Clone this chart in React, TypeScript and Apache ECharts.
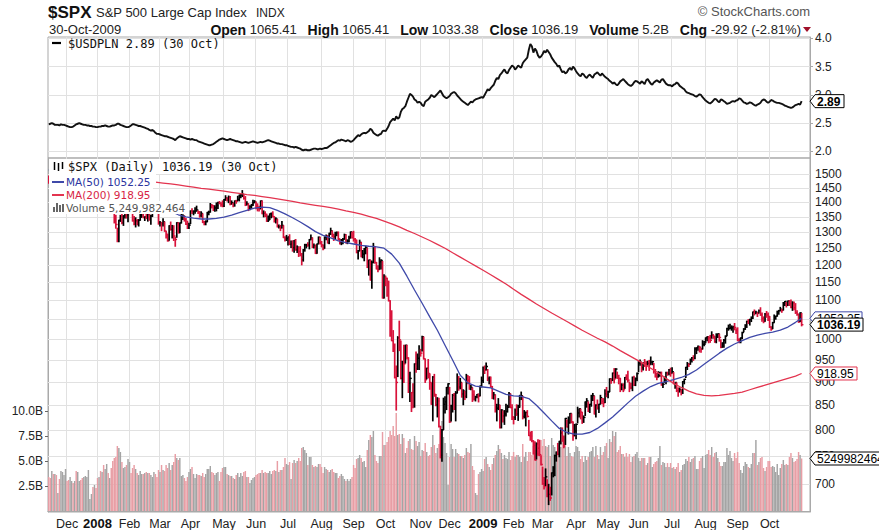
import React, { useEffect, useRef } from 'react';
import * as echarts from 'echarts';

// ---------- categories ----------
const FIRST_DAY = '2007-11-14';
const LAST_DAY = '2009-10-30';
const HOLIDAYS = ['2007-11-22', '2007-12-25', '2008-01-01', '2008-01-21', '2008-02-18', '2008-03-21', '2008-05-26', '2008-07-04', '2008-09-01', '2008-11-27', '2008-12-25', '2009-01-01', '2009-01-19', '2009-02-16', '2009-04-10', '2009-05-25', '2009-07-03', '2009-09-07'];
const PAD_DAYS = ['2009-11-02', '2009-11-03', '2009-11-04', '2009-11-05', '2009-11-06'];
const MONTHS = ['Jan', 'Feb', 'Mar', 'Apr', 'May', 'Jun', 'Jul', 'Aug', 'Sep', 'Oct', 'Nov', 'Dec'];

// ---------- $SPX daily (one line per month) ----------
const spxClose = [
  1471, 1451, 1459, 1433, 1440, 1417, 1441, 1407, 1428, 1469, 1470, 1481,
  1472, 1463, 1485, 1507, 1505, 1516, 1478, 1487, 1488, 1468, 1446, 1455, 1455, 1460, 1485, 1497, 1498, 1476, 1479, 1468,
  1447, 1447, 1412, 1416, 1390, 1409, 1420, 1401, 1416, 1381, 1373, 1333, 1325, 1311, 1339, 1352, 1331, 1354, 1362, 1356, 1379,
  1395, 1381, 1337, 1327, 1337, 1331, 1339, 1349, 1367, 1349, 1350, 1349, 1360, 1343, 1353, 1372, 1381, 1380, 1368, 1331,
  1331, 1327, 1334, 1304, 1293, 1273, 1321, 1309, 1316, 1288, 1277, 1331, 1298, 1330, 1350, 1353, 1341, 1326, 1315, 1323,
  1370, 1368, 1369, 1370, 1373, 1366, 1355, 1361, 1333, 1328, 1334, 1365, 1366, 1390, 1388, 1376, 1380, 1389, 1398, 1396, 1391, 1386,
  1409, 1414, 1408, 1418, 1393, 1398, 1388, 1404, 1403, 1409, 1424, 1425, 1427, 1413, 1391, 1394, 1376, 1385, 1391, 1398, 1400,
  1386, 1378, 1377, 1404, 1361, 1362, 1358, 1336, 1340, 1360, 1360, 1351, 1338, 1343, 1318, 1318, 1314, 1322, 1283, 1278, 1280,
  1285, 1262, 1263, 1252, 1274, 1245, 1253, 1240, 1228, 1215, 1245, 1260, 1261, 1260, 1277, 1282, 1253, 1258, 1234, 1263, 1284, 1267,
  1260, 1249, 1285, 1289, 1266, 1296, 1305, 1290, 1286, 1293, 1298, 1279, 1267, 1275, 1278, 1292, 1267, 1272, 1282, 1301, 1283,
  1278, 1275, 1237, 1242, 1268, 1225, 1232, 1249, 1252, 1193, 1214, 1156, 1207, 1255, 1207, 1188, 1186, 1209, 1213, 1106, 1166,
  1161, 1114, 1099, 1057, 996, 985, 910, 899, 1003, 998, 908, 946, 941, 985, 955, 897, 908, 877, 849, 941, 930, 954, 969,
  966, 1006, 953, 905, 931, 919, 899, 852, 911, 873, 851, 859, 807, 752, 800, 852, 857, 888, 896,
  816, 849, 871, 845, 876, 910, 889, 899, 874, 880, 869, 913, 904, 885, 888, 872, 863, 868, 873, 869, 891, 903,
  932, 927, 935, 907, 910, 890, 870, 872, 843, 844, 850, 805, 840, 828, 832, 837, 846, 874, 845, 826,
  825, 839, 832, 846, 869, 870, 827, 834, 835, 827, 789, 788, 779, 770, 743, 773, 765, 753, 735,
  701, 696, 713, 683, 683, 677, 720, 721, 751, 757, 754, 778, 794, 784, 769, 823, 806, 814, 833, 816, 788, 798,
  811, 834, 843, 836, 816, 825, 857, 859, 842, 852, 865, 870, 832, 850, 844, 852, 866, 858, 855, 874, 873,
  878, 907, 904, 920, 907, 929, 909, 908, 884, 893, 883, 910, 908, 904, 888, 887, 910, 893, 907, 919,
  943, 945, 932, 943, 940, 939, 942, 939, 945, 946, 924, 912, 911, 918, 921, 893, 895, 901, 920, 919, 927, 919,
  923, 896, 899, 881, 880, 883, 879, 901, 906, 933, 941, 940, 951, 955, 954, 976, 979, 982, 980, 975, 987, 988,
  1003, 1006, 1003, 997, 1010, 1007, 994, 1006, 1013, 1004, 980, 990, 997, 1007, 1026, 1026, 1028, 1028, 1031, 1029, 1021,
  998, 995, 1003, 1016, 1025, 1033, 1044, 1043, 1049, 1053, 1069, 1066, 1068, 1065, 1072, 1061, 1051, 1044, 1063, 1061, 1057,
  1030, 1025, 1041, 1055, 1058, 1066, 1072, 1076, 1073, 1092, 1097, 1088, 1098, 1091, 1081, 1093, 1080, 1067, 1063, 1043, 1066, 1036,
];
const spxHigh = [
  1492, 1471, 1462, 1456, 1452, 1436, 1441, 1446, 1430, 1471, 1473, 1489,
  1482, 1471, 1487, 1508, 1511, 1518, 1523, 1511, 1492, 1489, 1468, 1461, 1464, 1461, 1485, 1497, 1499, 1498, 1489, 1479,
  1471, 1456, 1444, 1423, 1430, 1410, 1429, 1419, 1417, 1414, 1391, 1377, 1355, 1313, 1339, 1355, 1368, 1354, 1364, 1385, 1385,
  1396, 1395, 1380, 1351, 1347, 1341, 1341, 1368, 1370, 1370, 1350, 1368, 1363, 1367, 1355, 1373, 1388, 1385, 1380, 1368,
  1335, 1332, 1344, 1333, 1303, 1294, 1321, 1333, 1322, 1321, 1284, 1331, 1331, 1330, 1360, 1357, 1353, 1345, 1336, 1329,
  1370, 1377, 1370, 1381, 1386, 1370, 1368, 1367, 1360, 1335, 1337, 1365, 1369, 1395, 1391, 1388, 1387, 1397, 1399, 1402, 1398, 1404,
  1409, 1422, 1415, 1421, 1419, 1404, 1396, 1404, 1406, 1420, 1424, 1425, 1440, 1425, 1419, 1401, 1394, 1387, 1392, 1406, 1405,
  1400, 1394, 1386, 1404, 1404, 1370, 1367, 1359, 1353, 1360, 1363, 1367, 1351, 1347, 1342, 1323, 1322, 1335, 1321, 1286, 1290,
  1285, 1292, 1272, 1273, 1274, 1277, 1257, 1253, 1255, 1234, 1246, 1262, 1262, 1267, 1277, 1291, 1282, 1263, 1260, 1263, 1285, 1284,
  1271, 1260, 1285, 1291, 1290, 1297, 1313, 1304, 1294, 1300, 1301, 1301, 1278, 1277, 1280, 1294, 1292, 1276, 1287, 1301, 1300,
  1303, 1280, 1275, 1243, 1275, 1268, 1243, 1249, 1256, 1250, 1214, 1214, 1211, 1265, 1255, 1207, 1197, 1221, 1215, 1210, 1171,
  1167, 1161, 1153, 1099, 1072, 1021, 988, 936, 1006, 1045, 995, 947, 985, 985, 985, 955, 922, 877, 896, 941, 969, 964, 984,
  975, 1007, 1005, 952, 931, 951, 918, 898, 912, 917, 873, 866, 865, 807, 801, 865, 868, 888, 896,
  888, 850, 873, 875, 879, 918, 912, 908, 898, 883, 880, 917, 914, 912, 893, 887, 881, 869, 873, 874, 891, 911,
  934, 936, 943, 928, 911, 911, 890, 877, 872, 852, 864, 850, 841, 838, 839, 852, 850, 877, 874, 851,
  826, 842, 851, 850, 871, 878, 869, 839, 836, 839, 819, 796, 797, 779, 777, 775, 781, 780, 751,
  730, 712, 727, 708, 700, 695, 720, 731, 752, 758, 774, 778, 804, 804, 788, 823, 820, 826, 833, 832, 816, 811,
  812, 846, 842, 842, 835, 828, 857, 864, 857, 852, 871, 875, 869, 851, 861, 852, 871, 864, 864, 883, 888,
  880, 907, 907, 920, 930, 930, 922, 915, 908, 896, 896, 910, 916, 924, 900, 897, 911, 913, 909, 920,
  947, 950, 942, 943, 951, 946, 947, 949, 957, 947, 942, 928, 919, 923, 922, 922, 898, 911, 922, 922, 928, 931,
  932, 921, 898, 898, 887, 887, 883, 901, 906, 933, 944, 941, 952, 956, 960, 979, 979, 983, 982, 977, 996, 994,
  1003, 1006, 1006, 1009, 1018, 1011, 1006, 1013, 1013, 1012, 998, 991, 999, 1008, 1027, 1035, 1037, 1033, 1032, 1039, 1026,
  1028, 1001, 1003, 1017, 1026, 1036, 1045, 1049, 1050, 1056, 1069, 1074, 1071, 1067, 1074, 1080, 1066, 1056, 1065, 1070, 1066,
  1057, 1031, 1042, 1061, 1058, 1071, 1073, 1081, 1076, 1094, 1097, 1094, 1098, 1099, 1101, 1096, 1095, 1091, 1072, 1063, 1067, 1065,
];
const spxLow = [
  1466, 1443, 1445, 1430, 1420, 1415, 1419, 1406, 1407, 1430, 1458, 1469,
  1470, 1461, 1463, 1482, 1502, 1504, 1476, 1467, 1469, 1467, 1445, 1433, 1445, 1448, 1463, 1484, 1485, 1475, 1469, 1467,
  1442, 1443, 1411, 1404, 1388, 1378, 1395, 1394, 1402, 1380, 1365, 1330, 1313, 1270, 1270, 1335, 1327, 1322, 1346, 1346, 1334,
  1375, 1379, 1336, 1324, 1317, 1324, 1320, 1339, 1350, 1347, 1338, 1344, 1336, 1339, 1326, 1351, 1366, 1366, 1364, 1326,
  1320, 1305, 1320, 1303, 1282, 1272, 1275, 1307, 1282, 1274, 1256, 1284, 1298, 1299, 1330, 1341, 1336, 1325, 1312, 1312,
  1328, 1361, 1357, 1362, 1369, 1361, 1349, 1350, 1331, 1324, 1324, 1334, 1357, 1366, 1380, 1371, 1369, 1370, 1378, 1394, 1386, 1384,
  1385, 1406, 1404, 1398, 1391, 1393, 1384, 1386, 1396, 1405, 1404, 1415, 1419, 1410, 1388, 1390, 1371, 1374, 1379, 1388, 1398,
  1377, 1370, 1370, 1377, 1360, 1350, 1351, 1335, 1335, 1341, 1347, 1350, 1333, 1330, 1317, 1314, 1305, 1314, 1283, 1272, 1274,
  1260, 1261, 1252, 1241, 1238, 1244, 1237, 1225, 1227, 1200, 1211, 1241, 1251, 1256, 1248, 1276, 1252, 1251, 1234, 1235, 1265, 1263,
  1254, 1245, 1250, 1276, 1266, 1264, 1293, 1285, 1274, 1277, 1289, 1275, 1263, 1261, 1264, 1278, 1266, 1264, 1270, 1282, 1282,
  1272, 1265, 1236, 1217, 1242, 1224, 1221, 1212, 1233, 1192, 1170, 1156, 1133, 1206, 1205, 1188, 1180, 1187, 1188, 1106, 1106,
  1140, 1111, 1098, 1007, 996, 970, 909, 840, 912, 972, 907, 866, 899, 943, 952, 877, 858, 837, 845, 846, 922, 928, 928,
  959, 971, 952, 899, 907, 909, 884, 852, 818, 869, 849, 826, 806, 747, 741, 801, 834, 841, 874,
  815, 818, 836, 841, 818, 876, 882, 885, 867, 851, 862, 866, 896, 884, 883, 858, 861, 859, 866, 857, 870, 889,
  899, 919, 927, 903, 896, 888, 864, 863, 836, 818, 841, 804, 804, 816, 811, 828, 836, 846, 845, 821,
  812, 821, 829, 819, 846, 862, 822, 824, 808, 826, 789, 780, 777, 754, 743, 745, 752, 751, 734,
  700, 692, 698, 679, 666, 673, 682, 713, 715, 741, 753, 749, 773, 778, 766, 772, 806, 792, 814, 814, 780, 789,
  783, 814, 826, 822, 813, 815, 829, 846, 837, 835, 848, 860, 832, 826, 842, 835, 853, 853, 847, 856, 868,
  866, 879, 897, 903, 898, 909, 908, 896, 879, 883, 879, 886, 905, 900, 879, 885, 881, 892, 892, 903,
  923, 938, 923, 927, 935, 926, 938, 926, 940, 939, 920, 911, 905, 911, 913, 893, 888, 899, 896, 915, 916, 913,
  920, 896, 886, 879, 869, 878, 872, 875, 896, 910, 928, 935, 940, 945, 949, 953, 965, 973, 969, 968, 976, 984,
  991, 996, 991, 992, 1002, 1002, 992, 991, 1004, 995, 979, 980, 980, 990, 1009, 1022, 1026, 1022, 1017, 1023, 1014,
  996, 991, 991, 1001, 1018, 1024, 1029, 1039, 1035, 1044, 1052, 1061, 1064, 1057, 1066, 1060, 1045, 1041, 1045, 1055, 1047,
  1029, 1022, 1026, 1042, 1050, 1058, 1063, 1072, 1068, 1074, 1086, 1082, 1086, 1086, 1080, 1073, 1075, 1065, 1060, 1042, 1044, 1033,
];
// volume, billions of shares
const spxVolume = [
  3.4, 3.3, 4.0, 3.7, 3.7, 3.6, 1.8, 3.2, 4.0, 3.9, 3.6, 4.2,
  3.0, 3.1, 3.4, 3.0, 2.8, 3.0, 4.0, 3.9, 3.0, 3.1, 3.3, 3.4, 3.5, 3.4, 4.1, 1.2, 1.7, 2.4, 2.6, 2.3,
  3.3, 3.4, 4.0, 3.9, 4.6, 4.2, 4.7, 3.8, 3.3, 4.3, 5.0, 5.3, 5.4, 6.5, 6.3, 5.9, 4.9, 4.3, 4.4, 4.6, 5.2,
  4.9, 3.8, 4.3, 4.6, 4.2, 3.8, 3.6, 4.0, 3.7, 3.7, 3.8, 3.9, 3.8, 3.8, 3.6, 3.4, 3.9, 3.7, 3.4, 4.1,
  3.9, 4.6, 4.1, 4.0, 4.6, 4.3, 4.8, 4.1, 4.6, 4.9, 5.7, 5.3, 5.1, 5.3, 3.5, 3.6, 3.3, 3.0, 3.4, 3.9,
  4.2, 4.4, 3.7, 3.3, 3.7, 3.6, 3.6, 3.5, 3.8, 3.4, 3.7, 4.2, 4.2, 4.5, 3.9, 3.8, 3.6, 3.8, 3.9, 3.0, 3.9, 4.3,
  4.4, 4.4, 3.7, 3.6, 3.5, 3.5, 3.3, 3.2, 3.6, 3.8, 3.4, 3.8, 3.5, 3.9, 4.0, 3.4, 3.4, 2.8, 3.1, 3.3, 3.4,
  3.6, 3.7, 3.8, 3.8, 4.1, 3.8, 3.9, 3.8, 3.8, 4.0, 3.7, 4.0, 4.1, 4.0, 5.0, 3.9, 4.1, 4.1, 4.4, 5.3, 4.7,
  4.6, 4.9, 3.2, 4.8, 5.1, 4.8, 5.0, 5.3, 5.0, 6.3, 6.4, 6.1, 5.8, 4.6, 5.4, 5.4, 4.6, 4.4, 4.5, 4.4, 4.7, 4.7,
  4.4, 3.8, 4.4, 4.2, 4.1, 3.9, 4.1, 4.2, 3.9, 3.8, 3.8, 3.3, 3.5, 3.7, 3.5, 3.2, 3.0, 3.2, 3.0, 3.2, 3.4,
  4.6, 4.3, 5.2, 5.3, 5.6, 5.3, 4.9, 5.0, 4.4, 6.1, 7.1, 7.6, 7.4, 8.0, 5.6, 5.0, 4.8, 5.5, 5.5, 7.9, 6.6,
  6.6, 6.9, 7.4, 8.0, 7.6, 8.5, 7.5, 9.8, 7.6, 7.7, 6.7, 7.7, 7.3, 5.8, 6.3, 7.0, 7.2, 6.2, 6.1, 7.5, 7.0, 6.5, 6.9,
  5.5, 6.1, 6.0, 6.8, 5.9, 5.5, 5.6, 6.4, 7.6, 6.6, 5.8, 6.3, 6.7, 8.0, 9.0, 7.4, 6.8, 5.8, 2.6,
  5.4, 6.7, 6.2, 5.4, 6.2, 5.8, 5.7, 5.5, 5.5, 5.3, 5.6, 6.3, 5.9, 5.8, 6.7, 4.5, 4.1, 1.8, 1.6, 3.7, 3.9, 4.2,
  4.0, 5.2, 5.4, 4.7, 4.4, 4.1, 4.7, 5.3, 5.6, 6.0, 6.6, 6.2, 5.8, 5.2, 5.6, 5.3, 5.2, 5.9, 5.1, 5.5,
  5.9, 5.4, 5.6, 5.6, 5.4, 4.9, 6.7, 5.4, 5.9, 5.0, 5.9, 5.9, 5.6, 6.5, 6.1, 6.4, 5.8, 6.0, 7.1,
  6.5, 7.2, 6.5, 6.4, 6.6, 5.5, 7.3, 6.6, 6.4, 5.8, 6.6, 6.3, 6.4, 7.0, 7.2, 6.4, 5.5, 6.4, 5.8, 5.5, 5.4, 5.9,
  6.5, 6.4, 6.0, 5.2, 5.5, 4.9, 5.5, 5.1, 5.4, 5.9, 6.0, 6.4, 5.4, 6.5, 5.6, 5.2, 6.4, 5.6, 5.9, 6.5, 6.8,
  5.3, 7.2, 6.9, 8.0, 7.5, 7.9, 5.9, 6.1, 6.5, 5.7, 5.7, 5.4, 5.8, 5.4, 5.7, 4.9, 5.4, 5.5, 5.7, 5.9,
  5.3, 5.0, 5.3, 5.3, 5.3, 4.6, 4.8, 5.4, 5.4, 4.4, 4.7, 4.9, 5.0, 5.3, 6.5, 4.6, 4.9, 4.8, 4.4, 4.8, 4.4, 4.8,
  4.3, 4.4, 4.2, 4.4, 4.8, 3.9, 4.1, 4.6, 4.7, 5.2, 5.0, 5.4, 4.9, 5.2, 5.3, 5.5, 4.2, 4.2, 5.0, 5.3, 5.5, 4.3,
  5.6, 5.7, 6.1, 5.6, 6.4, 5.4, 5.8, 5.9, 5.3, 4.9, 4.5, 4.5, 4.9, 4.9, 6.3, 5.6, 6.0, 5.3, 5.0, 5.8, 5.3,
  5.9, 4.8, 4.1, 3.8, 4.5, 4.9, 4.7, 4.4, 4.3, 4.7, 5.8, 5.8, 7.1, 4.6, 4.9, 5.3, 5.4, 4.3, 4.0, 4.4, 5.0,
  5.0, 4.4, 4.5, 4.4, 3.9, 4.7, 3.6, 4.3, 4.7, 5.1, 4.6, 4.7, 4.6, 5.4, 5.8, 5.3, 4.9, 5.0, 5.2, 5.9, 5.6, 5.25,
];
// $USDPLN daily close
const usdpln = [
  2.48, 2.49, 2.50, 2.49, 2.47, 2.47, 2.47, 2.46, 2.48, 2.47, 2.47, 2.46,
  2.45, 2.44, 2.43, 2.43, 2.44, 2.46, 2.48, 2.49, 2.50, 2.49, 2.48, 2.47, 2.47, 2.46, 2.46, 2.45, 2.45, 2.44, 2.44, 2.43,
  2.43, 2.44, 2.44, 2.45, 2.45, 2.46, 2.45, 2.44, 2.44, 2.45, 2.46, 2.46, 2.47, 2.49, 2.49, 2.47, 2.46, 2.45, 2.44, 2.43, 2.43,
  2.44, 2.46, 2.48, 2.48, 2.47, 2.46, 2.45, 2.45, 2.44, 2.43, 2.42, 2.41, 2.40, 2.38, 2.37, 2.38, 2.36, 2.33, 2.31, 2.31,
  2.30, 2.29, 2.28, 2.27, 2.27, 2.26, 2.25, 2.24, 2.23, 2.22, 2.20, 2.23, 2.25, 2.27, 2.26, 2.25, 2.24, 2.23, 2.22, 2.22,
  2.21, 2.22, 2.21, 2.20, 2.20, 2.18, 2.17, 2.16, 2.15, 2.14, 2.13, 2.12, 2.11, 2.11, 2.12, 2.13, 2.15, 2.17, 2.19, 2.21, 2.22, 2.23,
  2.22, 2.21, 2.20, 2.21, 2.22, 2.21, 2.20, 2.19, 2.18, 2.18, 2.17, 2.16, 2.15, 2.16, 2.17, 2.16, 2.15, 2.16, 2.17, 2.18, 2.17,
  2.16, 2.15, 2.16, 2.17, 2.16, 2.17, 2.18, 2.19, 2.20, 2.19, 2.18, 2.17, 2.16, 2.15, 2.14, 2.14, 2.13, 2.13, 2.12, 2.11, 2.11,
  2.10, 2.09, 2.08, 2.08, 2.07, 2.08, 2.07, 2.06, 2.05, 2.03, 2.02, 2.03, 2.03, 2.02, 2.02, 2.03, 2.04, 2.05, 2.05, 2.04, 2.04, 2.05,
  2.04, 2.05, 2.06, 2.06, 2.07, 2.09, 2.11, 2.13, 2.15, 2.16, 2.18, 2.20, 2.19, 2.21, 2.20, 2.19, 2.18, 2.20, 2.19, 2.17, 2.18,
  2.20, 2.23, 2.26, 2.29, 2.27, 2.30, 2.32, 2.33, 2.32, 2.34, 2.36, 2.40, 2.38, 2.33, 2.31, 2.29, 2.28, 2.30, 2.31, 2.36, 2.37,
  2.36, 2.40, 2.45, 2.52, 2.55, 2.58, 2.55, 2.62, 2.58, 2.60, 2.70, 2.75, 2.77, 2.80, 2.88, 2.95, 3.02, 3.00, 2.97, 2.92, 2.90, 2.86, 2.88,
  2.86, 2.82, 2.80, 2.88, 2.90, 2.92, 2.95, 3.00, 2.98, 2.96, 2.99, 3.02, 3.05, 3.08, 3.03, 2.98, 2.96, 2.94, 2.96,
  2.98, 3.02, 3.04, 3.05, 3.03, 2.99, 2.96, 2.93, 2.90, 2.88, 2.86, 2.84, 2.82, 2.85, 2.88, 2.87, 2.90, 2.92, 2.93, 2.94, 2.95, 2.96,
  2.95, 3.00, 3.05, 3.10, 3.08, 3.12, 3.15, 3.18, 3.25, 3.30, 3.28, 3.35, 3.38, 3.42, 3.45, 3.40, 3.38, 3.44, 3.48, 3.52,
  3.50, 3.45, 3.48, 3.52, 3.50, 3.48, 3.56, 3.60, 3.63, 3.66, 3.80, 3.90, 3.86, 3.75, 3.82, 3.78, 3.70, 3.66, 3.68,
  3.72, 3.78, 3.75, 3.80, 3.76, 3.72, 3.66, 3.62, 3.58, 3.55, 3.50, 3.52, 3.45, 3.40, 3.42, 3.38, 3.40, 3.45, 3.48, 3.44, 3.50, 3.47,
  3.42, 3.38, 3.35, 3.33, 3.38, 3.36, 3.32, 3.30, 3.34, 3.36, 3.33, 3.30, 3.36, 3.38, 3.40, 3.37, 3.34, 3.38, 3.35, 3.32, 3.30,
  3.28, 3.25, 3.23, 3.20, 3.22, 3.19, 3.17, 3.20, 3.24, 3.26, 3.28, 3.25, 3.22, 3.19, 3.17, 3.16, 3.18, 3.22, 3.25, 3.24,
  3.22, 3.20, 3.24, 3.22, 3.19, 3.26, 3.28, 3.24, 3.20, 3.18, 3.22, 3.24, 3.26, 3.24, 3.22, 3.27, 3.28, 3.24, 3.20, 3.18, 3.17, 3.17,
  3.15, 3.18, 3.19, 3.22, 3.20, 3.16, 3.14, 3.12, 3.10, 3.06, 3.04, 3.03, 3.02, 3.01, 3.00, 2.98, 2.97, 2.99, 3.01, 3.00, 2.96, 2.93,
  2.90, 2.88, 2.86, 2.85, 2.87, 2.90, 2.93, 2.92, 2.89, 2.87, 2.92, 2.91, 2.89, 2.87, 2.84, 2.85, 2.86, 2.88, 2.89, 2.88, 2.90,
  2.91, 2.94, 2.93, 2.90, 2.87, 2.86, 2.84, 2.85, 2.87, 2.86, 2.84, 2.82, 2.81, 2.83, 2.84, 2.86, 2.90, 2.92, 2.91, 2.88, 2.86,
  2.88, 2.91, 2.90, 2.88, 2.87, 2.86, 2.86, 2.85, 2.84, 2.83, 2.81, 2.80, 2.79, 2.78, 2.77, 2.78, 2.80, 2.82, 2.83, 2.84, 2.83, 2.89,
];
// moving averages sampled every MA_STEP trading days (last sample = last day)
const MA_STEP = 5;
const ma50 = [
  1515, 1510, 1505, 1500, 1495, 1490, 1484, 1477, 1468, 1458,
  1446, 1433, 1420, 1407, 1394, 1382, 1368, 1357, 1350, 1346,
  1343, 1343, 1345, 1349, 1356, 1364, 1372, 1379, 1383, 1381,
  1372, 1360, 1347, 1333, 1318, 1302, 1290, 1282, 1273, 1267,
  1263, 1259, 1256, 1254, 1250, 1232, 1205, 1167, 1128, 1092,
  1056, 1022, 985, 950, 915, 898, 891, 889, 887, 880,
  873, 870, 869, 864, 850, 834, 818, 803, 795, 792,
  792, 795, 803, 814, 826, 840, 855, 869, 880, 890,
  897, 901, 905, 910, 917, 927, 940, 953, 966, 978,
  988, 996, 1004, 1010, 1014, 1017, 1022, 1030, 1042, 1052.25,
];
const ma200 = [
  1495, 1494, 1493, 1492, 1491, 1490, 1489, 1487, 1485, 1483,
  1481, 1479, 1476, 1473, 1470, 1467, 1464, 1460, 1456, 1452,
  1448, 1445, 1442, 1438, 1434, 1430, 1426, 1423, 1419, 1415,
  1411, 1407, 1402, 1397, 1393, 1389, 1385, 1381, 1376, 1370,
  1365, 1359, 1352, 1345, 1336, 1327, 1317, 1306, 1296, 1285,
  1274, 1262, 1250, 1236, 1223, 1210, 1197, 1184, 1171, 1158,
  1145, 1130, 1116, 1103, 1090, 1078, 1066, 1055, 1044, 1033,
  1022, 1012, 1002, 993, 983, 972, 962, 952, 942, 931,
  920, 908, 897, 888, 880, 874, 871, 870, 871, 873,
  875, 878, 883, 888, 893, 898, 903, 908, 913, 918.95,
];
// tick labels
const priceTicks = [700, 750, 800, 850, 900, 950, 1000, 1050, 1100, 1150, 1200, 1250, 1300, 1350, 1400, 1450, 1500];
const usdTicks = [2.0, 2.5, 3.0, 3.5, 4.0];
const volTicks = [2.5, 5.0, 7.5, 10.0];
// header figures
const LAST_DATE_TEXT = '30-Oct-2009';
const LAST_SHORT = '30 Oct';
const LAST_OPEN = 1065.41;
const LAST_HIGH = 1065.41;
const LAST_LOW = 1033.38;
const LAST_CLOSE = 1036.19;
const LAST_VOLUME = 5249982464;
const LAST_CHG = -29.92;
const LAST_CHG_PCT = -2.81;
const LAST_USDPLN = 2.89;
const LAST_MA50 = 1052.25;
const LAST_MA200 = 918.95;

// ---------- helpers ----------
const SANS = 'Liberation Sans, Arial, Helvetica, sans-serif';
const MONO = 'DejaVu Sans Mono, monospace';
const VERD = 'DejaVu Sans, Verdana, sans-serif';
const GRID_LINE = '#e1e1e1';
const BORDER = '#a9a9a9';
const RED = '#d8123a';
const BLUE = '#3f49a9';
const MA_RED = '#e3344f';

function buildDays(): string[] {
  const out: string[] = [];
  const d = new Date(FIRST_DAY + 'T00:00:00Z');
  const end = new Date(LAST_DAY + 'T00:00:00Z').getTime();
  while (d.getTime() <= end) {
    const wd = d.getUTCDay();
    const s = d.toISOString().slice(0, 10);
    if (wd !== 0 && wd !== 6 && HOLIDAYS.indexOf(s) < 0) out.push(s);
    d.setUTCDate(d.getUTCDate() + 1);
  }
  return out;
}

function txt(x: number, y: number, text: string, size: number, o: any = {}) {
  return {
    type: 'text', x, y, z: o.z || 100, silent: true,
    style: {
      text, fontSize: size, fontFamily: o.family || SANS, fontWeight: o.weight || 'normal',
      fill: o.fill || '#222', align: o.align || 'left', textAlign: o.align || 'left',
      verticalAlign: 'middle', textVerticalAlign: 'middle', rich: o.rich,
    },
  };
}

export default function App() {
  const ref = useRef<HTMLDivElement>(null);

  useEffect(() => {
    document.body.style.margin = '0';
    const chart = echarts.init(ref.current as HTMLDivElement, null, { renderer: 'svg' });

    const days = buildDays();
    const cats = days.concat(PAD_DAYS);
    const n = days.length;
    const monthStart = (i: number) => i > 0 && i < n && days[i].slice(0, 7) !== days[i - 1].slice(0, 7);
    const up = spxClose.map((c, i) => (i === 0 ? false : c >= spxClose[i - 1]));

    const ohlc = spxClose.map((c, i) => [i, spxLow[i], spxHigh[i], c]);
    const volData = spxVolume.map((v, i) => ({ value: v, itemStyle: { color: up[i] ? '#a4a4a4' : '#e89ea5' } }));
    const maPts = (arr: number[]) => arr.map((v, i) => [Math.min(i * MA_STEP, n - 1), v]);

    const renderItem = (params: any, api: any) => {
      const i = api.value(0);
      const lo = api.coord([i, api.value(1)]);
      const hi = api.coord([i, api.value(2)]);
      const cl = api.coord([i, api.value(3)]);
      const color = up[i] ? '#000' : RED;
      return {
        type: 'group',
        children: [
          { type: 'line', shape: { x1: lo[0], y1: lo[1] + 0.5, x2: hi[0], y2: hi[1] - 0.5 }, style: { stroke: color, lineWidth: 1.7 } },
          { type: 'line', shape: { x1: cl[0], y1: cl[1], x2: cl[0] + 1.8, y2: cl[1] }, style: { stroke: color, lineWidth: 1.4 } },
        ],
      };
    };

    const labelStyle = { color: '#222', fontSize: 12, fontFamily: SANS };

    const option: any = {
      animation: false,
      backgroundColor: '#fff',
      grid: [
        { left: 48, right: 69, top: 37, height: 121, show: true, borderColor: BORDER, borderWidth: 1, backgroundColor: 'transparent' },
        { left: 48, right: 69, top: 158, height: 354, show: true, borderColor: BORDER, borderWidth: 1, backgroundColor: 'transparent' },
      ],
      xAxis: [
        {
          type: 'category', gridIndex: 0, data: cats, boundaryGap: true,
          axisLine: { show: false }, axisTick: { show: false }, axisLabel: { show: false },
          splitLine: { show: true, interval: (i: number) => monthStart(i), lineStyle: { color: GRID_LINE } },
        },
        {
          type: 'category', gridIndex: 1, data: cats, boundaryGap: true,
          axisLine: { show: true, lineStyle: { color: BORDER } }, axisTick: { show: false },
          axisLabel: {
            show: true, interval: (i: number) => monthStart(i), margin: 5, ...labelStyle, fontSize: 12.5,
            formatter: (v: string) => {
              const m = +v.slice(5, 7);
              return m === 1 ? '{y|' + v.slice(0, 4) + '}' : MONTHS[m - 1];
            },
            rich: { y: { fontWeight: 'bold', fontSize: 13, fontFamily: SANS, color: '#111' } },
          },
          splitLine: { show: true, interval: (i: number) => monthStart(i), lineStyle: { color: GRID_LINE } },
        },
      ],
      yAxis: [
        {
          type: 'value', gridIndex: 0, position: 'right', min: 1.884, max: 4.025,
          axisLine: { show: true, lineStyle: { color: BORDER } },
          axisTick: { show: true, length: 3, customValues: usdTicks, lineStyle: { color: BORDER } },
          axisLabel: { customValues: usdTicks, formatter: (v: number) => v.toFixed(1), margin: 5, ...labelStyle },
          splitLine: { show: true, lineStyle: { color: GRID_LINE } },
        },
        {
          type: 'log', logBase: 10, gridIndex: 1, position: 'right', min: 654, max: 1560,
          axisLine: { show: true, lineStyle: { color: BORDER } },
          axisTick: { show: false }, axisLabel: { show: false }, splitLine: { show: false },
        },
        {
          type: 'value', gridIndex: 1, position: 'left', min: -0.1, max: 35.3,
          axisLine: { show: true, lineStyle: { color: BORDER } },
          axisTick: { show: true, length: 3, customValues: volTicks, lineStyle: { color: '#666' } },
          axisLabel: { customValues: volTicks, formatter: (v: number) => v.toFixed(1) + 'B', margin: 5, ...labelStyle },
          splitLine: { show: false },
        },
      ],
      series: [
        {
          name: 'USDPLN', type: 'line', xAxisIndex: 0, yAxisIndex: 0, data: usdpln,
          symbol: 'none', showSymbol: false, lineStyle: { color: '#111', width: 1.9 }, z: 3,
        },
        {
          name: 'Volume', type: 'bar', xAxisIndex: 1, yAxisIndex: 2, data: volData, barWidth: 1.45, z: 2,
        },
        {
          name: 'SPX', type: 'custom', xAxisIndex: 1, yAxisIndex: 1, data: ohlc, renderItem,
          encode: { x: 0, y: [1, 2, 3] }, z: 3, clip: true,
        },
        {
          name: 'MA50', type: 'line', xAxisIndex: 1, yAxisIndex: 1, data: maPts(ma50),
          symbol: 'none', showSymbol: false, lineStyle: { color: BLUE, width: 1.3 }, z: 4,
        },
        {
          name: 'MA200', type: 'line', xAxisIndex: 1, yAxisIndex: 1, data: maPts(ma200), clip: false,
          symbol: 'none', showSymbol: false, lineStyle: { color: MA_RED, width: 1.3 }, z: 4,
          markLine: {
            silent: true, symbol: ['none', 'none'], z: 1, animation: false,
            lineStyle: { color: GRID_LINE, width: 1, type: 'solid' },
            label: { show: true, position: 'end', distance: 5, formatter: (p: any) => String(p.value), ...labelStyle },
            emphasis: { disabled: true },
            data: priceTicks.map((v) => ({ yAxis: v })),
          },
        },
      ],
    };

    chart.setOption(option);

    const py = (axis: number, v: number) => chart.convertToPixel({ yAxisIndex: axis } as any, v) as unknown as number;

    const tag = (y: number, text: string, stroke: string, bold: boolean, w: number, z: number) => [
      {
        type: 'polygon', z, silent: true,
        shape: { points: [[810, y], [815, y - 6.5], [815 + w, y - 6.5], [815 + w, y + 6.5], [815, y + 6.5]] },
        style: { fill: '#fff', stroke, lineWidth: 1 },
      },
      txt(817, y + 0.5, text, 12, { weight: bold ? 'bold' : 'normal', fill: '#000', z: z + 1 }),
    ];

    const rect = (x: number, y: number, w: number, h: number, fill: string) => ({
      type: 'rect', z: 99, silent: true, shape: { x, y, width: w, height: h }, style: { fill },
    });
    const seg = (x1: number, y1: number, x2: number, y2: number, stroke: string, lw: number) => ({
      type: 'line', z: 101, silent: true, shape: { x1, y1, x2, y2 }, style: { stroke, lineWidth: lw },
    });

    const fmtChg = `${LAST_CHG.toFixed(2)} (${LAST_CHG_PCT.toFixed(2)}%)`;
    const G = '   ';
    const headRight =
      `{b|Open} ${LAST_OPEN.toFixed(2)}${G}{b|High} ${LAST_HIGH.toFixed(2)}${G}{b|Low} ${LAST_LOW.toFixed(2)}${G}` +
      `{b|Close} ${LAST_CLOSE.toFixed(2)}${G}{b|Volume} ${(LAST_VOLUME / 1e9).toFixed(1)}B${G}{b|Chg} ${fmtChg}`;

    const elements: any[] = [
      // header
      txt(48, 12, '$SPX', 17, { weight: 'bold', fill: '#111' }),
      txt(96, 12.5, 'S&P 500 Large Cap Index', 13),
      txt(256, 13, 'INDX', 12),
      txt(49, 29.5, LAST_DATE_TEXT, 13),
      txt(801, 29.5, headRight, 13, { align: 'right', rich: { b: { fontWeight: 'bold', fontSize: 14, fontFamily: SANS, fill: '#111' } } }),
      { type: 'polygon', z: 100, silent: true, shape: { points: [[803, 27], [811, 27], [807, 32]] }, style: { fill: '#a0102a' } },
      txt(810, 11, '\u00a9 StockCharts.com', 13, { align: 'right', fill: '#555' }),
      // top panel legend
      seg(52, 43, 61, 43, '#000', 2.2),
      txt(68, 43.5, `$USDPLN ${LAST_USDPLN.toFixed(2)} (${LAST_SHORT})`, 12, { family: MONO, fill: '#111' }),
      // main legend backgrounds
      rect(49, 159, 232, 15, '#fff'),
      rect(49, 174, 107, 14, '#fff'),
      rect(49, 188, 104, 13, '#fff'),
      rect(49, 201, 137, 13, '#fff'),
      // legend icons
      seg(54.5, 162, 54.5, 170, '#000', 1.5),
      seg(58.5, 163, 58.5, 171, '#000', 1.5),
      seg(62.5, 162, 62.5, 169, '#000', 1.5),
      seg(52, 182, 64, 182, BLUE, 2),
      seg(52, 195, 64, 195, MA_RED, 2),
      { type: 'rect', z: 101, silent: true, shape: { x: 53, y: 207, width: 2, height: 5 }, style: { fill: '#666' } },
      { type: 'rect', z: 101, silent: true, shape: { x: 56, y: 203, width: 2, height: 9 }, style: { fill: '#666' } },
      { type: 'rect', z: 101, silent: true, shape: { x: 59, y: 205, width: 2, height: 7 }, style: { fill: '#666' } },
      { type: 'rect', z: 101, silent: true, shape: { x: 62, y: 204, width: 2, height: 8 }, style: { fill: '#666' } },
      txt(68, 166.5, `$SPX (Daily) ${LAST_CLOSE.toFixed(2)} (${LAST_SHORT})`, 12, { family: MONO, fill: '#111', z: 101 }),
      txt(66, 182, `MA(50) ${LAST_MA50.toFixed(2)}`, 10.5, { family: VERD, fill: '#2b35a0', z: 101 }),
      txt(66, 195, `MA(200) ${LAST_MA200.toFixed(2)}`, 10.5, { family: VERD, fill: '#d81f45', z: 101 }),
      txt(66, 208, `Volume ${LAST_VOLUME.toLocaleString('en-US')}`, 10.5, { family: VERD, fill: '#555', z: 101 }),
      // value tags
      ...tag(py(0, LAST_USDPLN), LAST_USDPLN.toFixed(2), '#000', true, 29, 110),
      ...tag(py(1, LAST_MA50), LAST_MA50.toFixed(2), BLUE, false, 47, 112),
      ...tag(py(1, LAST_CLOSE), LAST_CLOSE.toFixed(2), '#000', true, 48, 114),
      ...tag(py(1, LAST_MA200), LAST_MA200.toFixed(2), MA_RED, false, 42, 116),
      ...tag(py(2, LAST_VOLUME / 1e9), String(LAST_VOLUME), '#000', false, 80, 118),
    ];

    chart.setOption({ graphic: { elements } });

    return () => chart.dispose();
  }, []);

  return <div ref={ref} style={{ width: 879, height: 530 }} />;
}
